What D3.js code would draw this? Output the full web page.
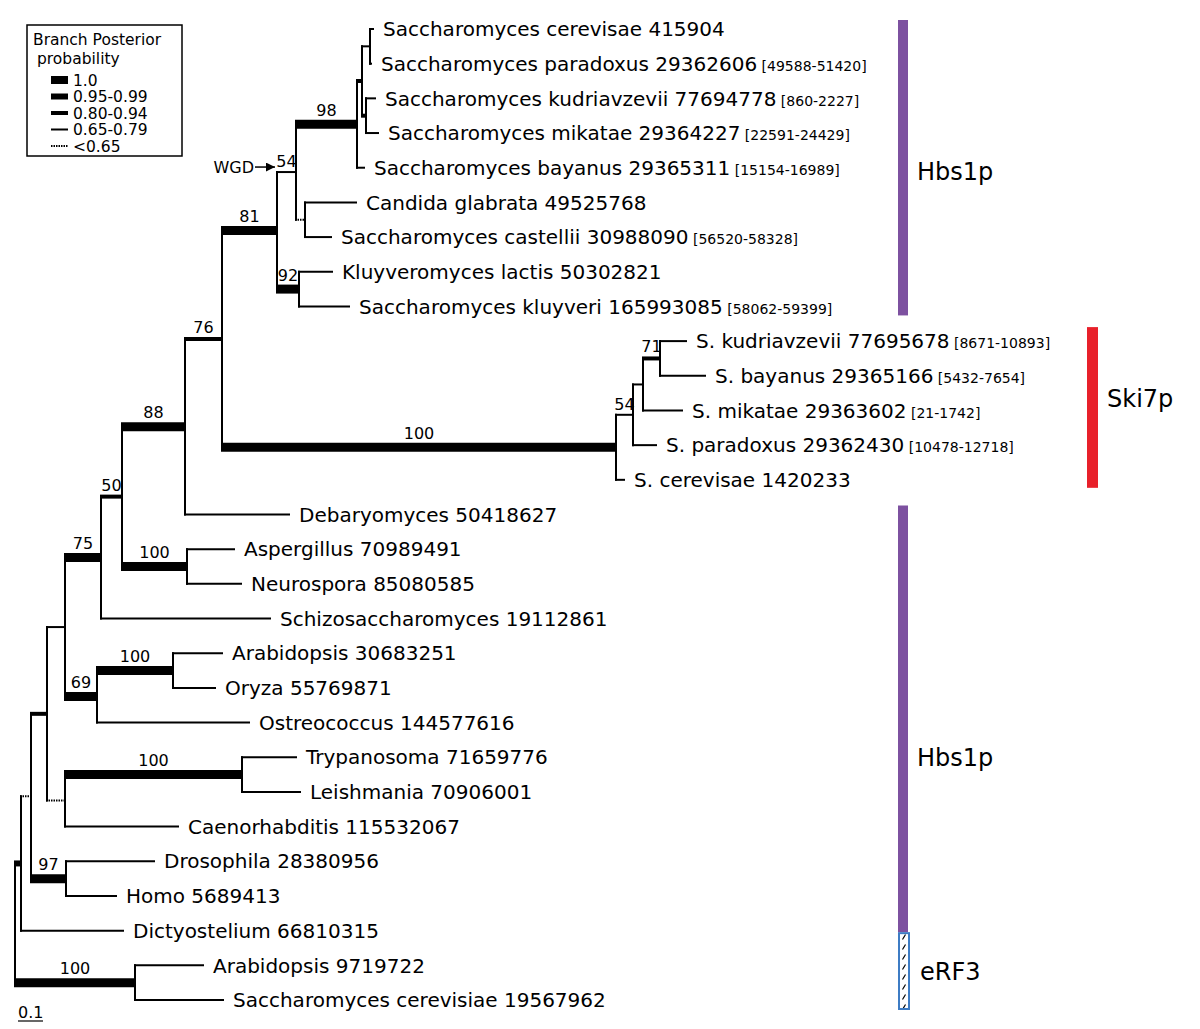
<!DOCTYPE html>
<html>
<head>
<meta charset="utf-8">
<script src="https://cdn.jsdelivr.net/npm/d3@7"></script>
<style>
body { margin: 0; background: #fff; }
svg { display: block; font-family: "DejaVu Sans", sans-serif; }
</style>
</head>
<body>
<svg id="chart"></svg>
<script>
// tree topology: [node, parent, branch length]
const branches = [
  ["root", "", 0],
  ["R", "root", 0.024],
  ["P", "R", 0.04],
  ["M", "P", 0.064],
  ["J", "M", 0.072],
  ["I", "J", 0.144],
  ["G", "I", 0.084],
  ["F", "G", 0.252],
  ["E", "F", 0.148],
  ["V", "E", 0.22],
  ["W", "V", 0.076],
  ["X", "W", 0.244],
  ["Z", "X", 0.02],
  ["Z1", "Z", 0.032],
  ["L0", "Z1", 0.016],
  ["L1", "Z1", 0.008],
  ["Z2", "Z", 0.016],
  ["L2", "Z2", 0.04],
  ["L3", "Z2", 0.052],
  ["L4", "X", 0.032],
  ["Y", "W", 0.036],
  ["L5", "Y", 0.208],
  ["L6", "Y", 0.108],
  ["U", "V", 0.088],
  ["L7", "U", 0.136],
  ["L8", "U", 0.204],
  ["D", "E", 1.576],
  ["C", "D", 0.068],
  ["B", "C", 0.04],
  ["A", "B", 0.068],
  ["L9", "A", 0.108],
  ["L10", "A", 0.184],
  ["L11", "B", 0.16],
  ["L12", "C", 0.096],
  ["L13", "D", 0.036],
  ["L14", "F", 0.42],
  ["H", "G", 0.26],
  ["L15", "H", 0.192],
  ["L16", "H", 0.22],
  ["L17", "I", 0.68],
  ["K", "J", 0.128],
  ["Lk", "K", 0.304],
  ["L18", "Lk", 0.2],
  ["L19", "Lk", 0.172],
  ["L20", "K", 0.612],
  ["N", "M", 0.072],
  ["O", "N", 0.708],
  ["L21", "O", 0.22],
  ["L22", "O", 0.236],
  ["L23", "N", 0.456],
  ["Q", "P", 0.14],
  ["L24", "Q", 0.356],
  ["L25", "Q", 0.204],
  ["L26", "R", 0.412],
  ["T", "root", 0.48],
  ["L27", "T", 0.276],
  ["L28", "T", 0.356]
];

// leaf labels: [node, name, genomic range]
const leaves = [
  ["L0", "Saccharomyces cerevisae 415904", ""],
  ["L1", "Saccharomyces paradoxus 29362606", "[49588-51420]"],
  ["L2", "Saccharomyces kudriavzevii 77694778", "[860-2227]"],
  ["L3", "Saccharomyces mikatae 29364227", "[22591-24429]"],
  ["L4", "Saccharomyces bayanus 29365311", "[15154-16989]"],
  ["L5", "Candida glabrata 49525768", ""],
  ["L6", "Saccharomyces castellii 30988090", "[56520-58328]"],
  ["L7", "Kluyveromyces lactis 50302821", ""],
  ["L8", "Saccharomyces kluyveri 165993085", "[58062-59399]"],
  ["L9", "S. kudriavzevii 77695678", "[8671-10893]"],
  ["L10", "S. bayanus 29365166", "[5432-7654]"],
  ["L11", "S. mikatae 29363602", "[21-1742]"],
  ["L12", "S. paradoxus 29362430", "[10478-12718]"],
  ["L13", "S. cerevisae 1420233", ""],
  ["L14", "Debaryomyces 50418627", ""],
  ["L15", "Aspergillus 70989491", ""],
  ["L16", "Neurospora 85080585", ""],
  ["L17", "Schizosaccharomyces 19112861", ""],
  ["L18", "Arabidopsis 30683251", ""],
  ["L19", "Oryza 55769871", ""],
  ["L20", "Ostreococcus 144577616", ""],
  ["L21", "Trypanosoma 71659776", ""],
  ["L22", "Leishmania 70906001", ""],
  ["L23", "Caenorhabditis 115532067", ""],
  ["L24", "Drosophila 28380956", ""],
  ["L25", "Homo 5689413", ""],
  ["L26", "Dictyostelium 66810315", ""],
  ["L27", "Arabidopsis 9719722", ""],
  ["L28", "Saccharomyces cerevisiae 19567962", ""]
];

// branch posterior class (branches not listed are drawn as plain lines)
const posteriorClass = [
  ["R", "0.95-0.99"], ["P", "<0.65"], ["M", "0.80-0.94"], ["I", "1.0"],
  ["G", "0.80-0.94"], ["F", "1.0"], ["E", "0.80-0.94"], ["V", "1.0"],
  ["X", "1.0"], ["Z", "0.80-0.94"], ["Z2", "0.80-0.94"], ["Y", "<0.65"],
  ["U", "1.0"], ["D", "1.0"], ["A", "0.80-0.94"], ["H", "1.0"],
  ["K", "1.0"], ["Lk", "1.0"], ["N", "<0.65"], ["O", "1.0"],
  ["Q", "1.0"], ["T", "1.0"]
];

// support values written above branches
const supportValues = [
  ["W", "54"], ["X", "98"], ["V", "81"], ["U", "92"], ["E", "76"],
  ["F", "88"], ["D", "100"], ["C", "54"], ["A", "71"], ["G", "50"],
  ["H", "100"], ["I", "75"], ["Lk", "100"], ["K", "69"], ["O", "100"],
  ["Q", "97"], ["T", "100"]
];

const legendClasses = ["1.0", "0.95-0.99", "0.80-0.94", "0.65-0.79", "<0.65"];

// protein families: [label, first leaf, last leaf]
const groups = [
  ["Hbs1p", "L0", "L8"],
  ["Ski7p", "L9", "L13"],
  ["Hbs1p", "L14", "L26"],
  ["eRF3", "L27", "L28"]
];

const scaleBarValue = 0.1;

// ---------------------------------------------------------------

const W = 1200, H = 1029;
const svg = d3.select('#chart').attr('width', W).attr('height', H);

const strokeFor = {"1.0": 9, "0.95-0.99": 6, "0.80-0.94": 4, "0.65-0.79": 2, "<0.65": 2};
const classOf = new Map(posteriorClass);
const supportOf = new Map(supportValues);
const leafInfo = new Map(leaves.map(d => [d[0], d]));

const root = d3.stratify()
  .id(d => d[0])
  .parentId(d => d[1] || null)(branches);

root.each(d => { d.len = d.parent ? d.parent.len + d.data[2] : 0; });

const x = d3.scaleLinear().domain([0, 1]).range([15, 265]);
const y = d3.scalePoint()
  .domain(root.leaves().map(d => d.id))
  .range([29, 1000]);

root.eachAfter(d => {
  if (d.children) {
    d.y = (d.children[0].y + d.children[d.children.length - 1].y) / 2;
  } else {
    d.y = y(d.id);
  }
});

const tree = svg.append('g');

// vertical connectors
tree.selectAll('.vline')
  .data(root.descendants().filter(d => d.children))
  .enter()
  .append('line')
  .attr('x1', d => x(d.len)).attr('x2', d => x(d.len))
  .attr('y1', d => d.children[0].y - 1)
  .attr('y2', d => d.children[d.children.length - 1].y + 1)
  .attr('stroke', '#000')
  .attr('stroke-width', 2);

// horizontal branches
tree.selectAll('.hline')
  .data(root.descendants().filter(d => d.parent))
  .enter()
  .append('line')
  .attr('x1', d => x(d.parent.len) - 1)
  .attr('x2', d => x(d.len))
  .attr('y1', d => d.y).attr('y2', d => d.y)
  .attr('stroke', '#000')
  .attr('stroke-width', d => strokeFor[classOf.get(d.id) || "0.65-0.79"])
  .attr('stroke-dasharray', d => classOf.get(d.id) === "<0.65" ? "1.5,1" : null);

// support values
tree.selectAll('.support')
  .data(root.descendants().filter(d => supportOf.has(d.id)))
  .enter()
  .append('text')
  .attr('x', d => (x(d.parent.len) + x(d.len)) / 2)
  .attr('y', d => d.y - strokeFor[classOf.get(d.id) || "0.65-0.79"] / 2 - 4)
  .attr('text-anchor', 'middle')
  .style('font-size', '16px')
  .text(d => supportOf.get(d.id));

// leaf labels
const labels = tree.selectAll('.leaf')
  .data(root.leaves())
  .enter()
  .append('text')
  .attr('x', d => x(d.len) + 9)
  .attr('y', d => d.y)
  .attr('dy', '0.36em')
  .style('font-size', '20px');

labels.append('tspan').text(d => leafInfo.get(d.id)[1]);
labels.append('tspan')
  .style('font-size', '14px')
  .text(d => leafInfo.get(d.id)[2] ? ' ' + leafInfo.get(d.id)[2] : '');

// WGD arrow at the base of the whole-genome-duplication branch
const wgd = root.find(d => d.id === "W");
const wgdX = x(wgd.parent.len) - 2;
svg.append('defs').append('marker')
  .attr('id', 'arrow')
  .attr('viewBox', '0 0 10 10')
  .attr('refX', 10).attr('refY', 5)
  .attr('markerWidth', 9).attr('markerHeight', 9)
  .attr('markerUnits', 'userSpaceOnUse')
  .attr('orient', 'auto')
  .append('path')
  .attr('d', 'M0,0L10,5L0,10z');
svg.append('line')
  .attr('x1', wgdX - 20).attr('x2', wgdX)
  .attr('y1', wgd.y - 5).attr('y2', wgd.y - 5)
  .attr('stroke', '#000').attr('stroke-width', 1.5)
  .attr('marker-end', 'url(#arrow)');
svg.append('text')
  .attr('x', wgdX - 21).attr('y', wgd.y - 5).attr('dy', '0.36em')
  .attr('text-anchor', 'end')
  .style('font-size', '16px')
  .text('WGD');

// scale bar
svg.append('line')
  .attr('x1', 18).attr('x2', 18 + x(scaleBarValue) - x(0))
  .attr('y1', 1021).attr('y2', 1021)
  .attr('stroke', '#000').attr('stroke-width', 1.2);
svg.append('text')
  .attr('x', 18).attr('y', 1018)
  .style('font-size', '16px')
  .text(scaleBarValue);

// family bars
const pattern = svg.select('defs').append('pattern')
  .attr('id', 'hatch')
  .attr('patternUnits', 'userSpaceOnUse')
  .attr('x', 898).attr('y', 932)
  .attr('width', 12).attr('height', 10);
pattern.append('rect').attr('width', 12).attr('height', 10).attr('fill', '#fff');
pattern.append('line')
  .attr('x1', 4.5).attr('y1', 7.5).attr('x2', 7.5).attr('y2', 2.5)
  .attr('stroke', '#000').attr('stroke-width', 1.2);

const groupStyle = {
  "Hbs1p": {x: 898, w: 10, fill: '#7d51a0'},
  "Ski7p": {x: 1087, w: 11, fill: '#e8202a'},
  "eRF3": {x: 899, w: 10, fill: 'url(#hatch)', stroke: '#3e7cc4'}
};

const leafY = id => y(id);
const spans = groups.map((g, i) => {
  let top = leafY(g[1]) - 9, bottom = leafY(g[2]) + 9;
  return {label: g[0], top, bottom, i};
});
// eRF3 box continues directly below the Hbs1p bar
spans[2].bottom = leafY("L26") + 1.5;
spans[3].top = spans[2].bottom;
spans[3].bottom = leafY("L28") + 10;
spans[1].top = leafY("L9") - 14;
spans[1].bottom = leafY("L13") + 8;

svg.selectAll('.fam')
  .data(spans)
  .enter()
  .append('rect')
  .attr('x', d => groupStyle[d.label].x)
  .attr('y', d => d.top + (groupStyle[d.label].stroke ? 1 : 0))
  .attr('width', d => groupStyle[d.label].w)
  .attr('height', d => d.bottom - d.top - (groupStyle[d.label].stroke ? 2 : 0))
  .attr('fill', d => groupStyle[d.label].fill)
  .attr('stroke', d => groupStyle[d.label].stroke || null)
  .attr('stroke-width', 2);

const labelY = [leafY("L4") + 4, leafY("L11") - 12, (spans[2].top + spans[3].bottom) / 2, (spans[3].top + spans[3].bottom) / 2];
svg.selectAll('.famlabel')
  .data(spans)
  .enter()
  .append('text')
  .attr('x', d => groupStyle[d.label].x + groupStyle[d.label].w + (d.label === 'eRF3' ? 11 : 9))
  .attr('y', (d, i) => labelY[i])
  .attr('dy', '0.36em')
  .style('font-size', '24px')
  .text(d => d.label);

// legend
const legend = svg.append('g');
legend.append('rect')
  .attr('x', 27).attr('y', 25).attr('width', 155).attr('height', 131)
  .attr('fill', 'none').attr('stroke', '#000').attr('stroke-width', 1.5);
legend.append('text').attr('x', 33).attr('y', 45).style('font-size', '15.5px').text('Branch Posterior');
legend.append('text').attr('x', 37).attr('y', 64).style('font-size', '15.5px').text('probability');

const legendY = d3.scalePoint().domain(legendClasses).range([80, 146]);
const legendRows = legend.selectAll('.lrow')
  .data(legendClasses)
  .enter()
  .append('g');
legendRows.append('line')
  .attr('x1', 51).attr('x2', 68)
  .attr('y1', d => legendY(d)).attr('y2', d => legendY(d))
  .attr('stroke', '#000')
  .attr('stroke-width', d => strokeFor[d] === 9 ? 8 : strokeFor[d])
  .attr('stroke-dasharray', d => d === "<0.65" ? "1.5,1" : null);
legendRows.append('text')
  .attr('x', 73)
  .attr('y', d => legendY(d))
  .attr('dy', '0.36em')
  .style('font-size', '15.5px')
  .text(d => d);
</script>
</body>
</html>
